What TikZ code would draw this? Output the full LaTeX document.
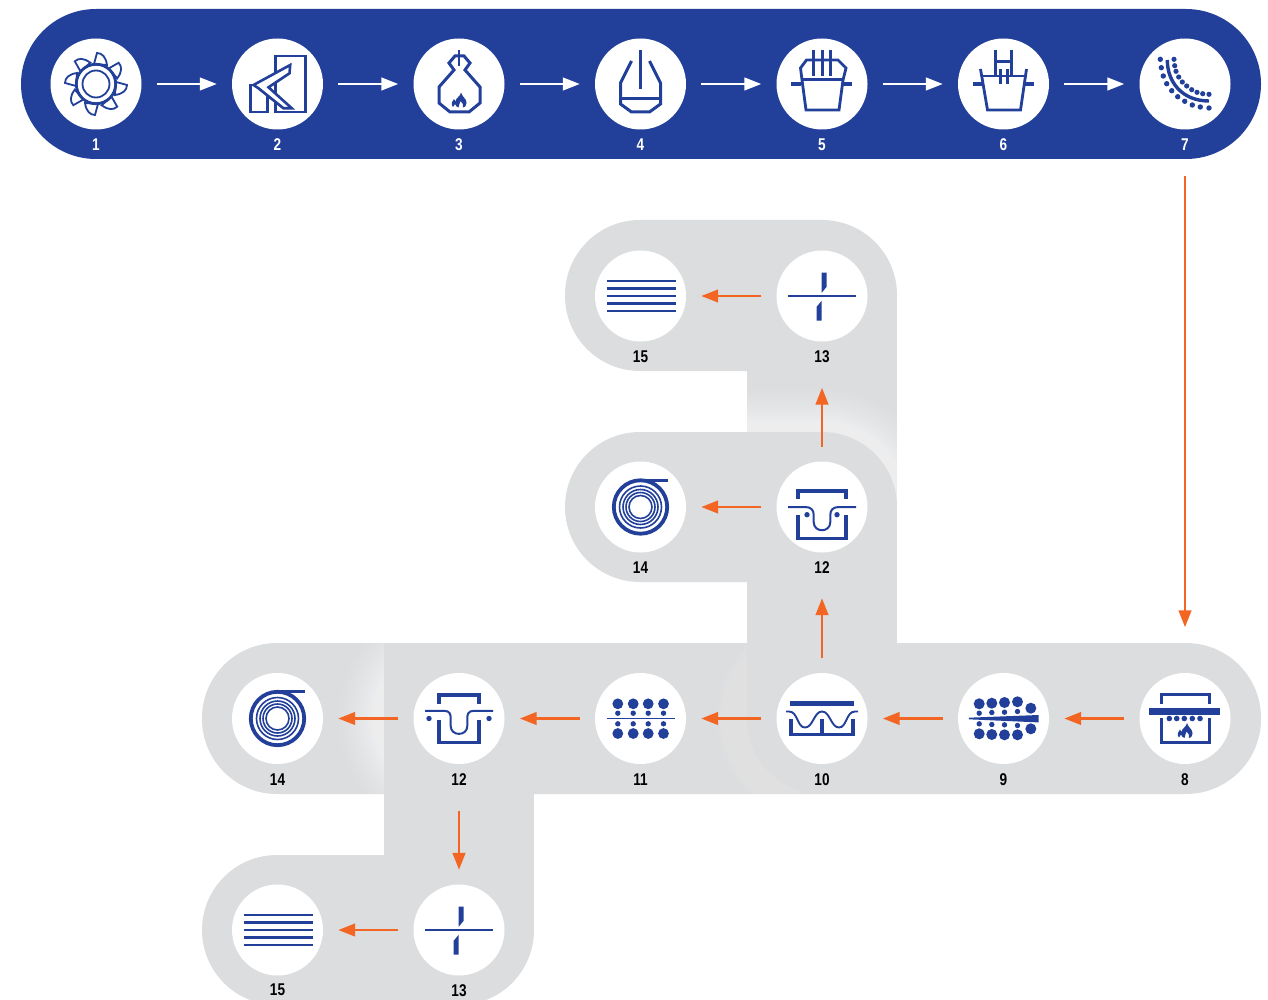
\documentclass[tikz,border=0pt]{standalone}
\usepackage{fontspec}
\usetikzlibrary{arrows.meta}
\newfontfamily\numfont[FakeStretch=0.8]{Liberation Sans}
\definecolor{bandblue}{HTML}{22409A}
\definecolor{bandgray}{HTML}{DCDDDF}
\definecolor{flow}{HTML}{F26522}
\tikzset{
  disc/.style={circle,fill=white,minimum size=91pt,inner sep=0pt,draw=none},
  numw/.style={text=white,font=\numfont\bfseries\fontsize{17}{17}\selectfont,inner sep=0pt},
  numk/.style={text=black,font=\numfont\bfseries\fontsize{17}{17}\selectfont,inner sep=0pt},
  whitearrow/.style={draw=white,line width=2.8pt,-{Triangle[length=17pt,width=12.5pt]},shorten <=15pt,shorten >=15pt},
  flowarrow/.style={draw=flow,line width=2.8pt,-{Triangle[length=17pt,width=12.5pt]},shorten <=15pt,shorten >=15pt},
  stroke/.style={draw=bandblue,line width=#1,line join=miter},
  stroke/.default=2pt,
  ink/.style={fill=bandblue,draw=none}
}
% soft white halo made of stacked translucent strokes, denser near the edge
\newcommand{\halo}[3]{% #1 widest stroke, #2 opacity, #3 path
  \foreach \hw in {1,...,30}{
    \pgfmathsetmacro{\hwd}{#1*(\hw/30)*(\hw/30)}
    \draw[white,draw opacity=#2,line width=\hwd pt] #3;
  }}
\newcommand{\icoFlame}{%
  \fill[ink] (2,-7.5) .. controls (3,-3) and (8,-1) .. (7.5,3) .. controls (7.3,6) and (6,7.5) .. (4,7.5) .. controls (5,5) and (3.5,3) .. (1.5,1) .. controls (1.5,3.5) and (-1,5) .. (-0.5,7.5) .. controls (-2,7) and (-3.5,6) .. (-4,4) .. controls (-5,5) and (-5.5,6) .. (-6,7) .. controls (-8.5,4) and (-7,1) .. (-5,-1) .. controls (-5,0) and (-4.5,1) .. (-3.5,1.5) .. controls (-3.5,-2) and (1.5,-3.5) .. (2,-7.5) -- cycle;}
\newcommand{\icoA}{%
  \foreach \a in {0,45,...,315}{
    \draw[stroke=1.8pt,fill=white,rotate=\a] (20,-2) -- (31,1) .. controls (31,6) and (27,10) .. (19,11) -- cycle;}
  \draw[stroke=2.8pt,fill=white] (0,0) circle (19.7);
  \draw[stroke=1.8pt] (0,0) circle (13.5);}
\newcommand{\icoB}{%
  \draw[stroke=2.6pt] (-2.3,-28) rectangle (27.7,28);
  \draw[stroke=2.6pt] (-27.3,1) rectangle (-10,28);
  \draw[stroke=2.6pt,fill=white] (12.7,-19) -- (12,-10.7) -- (-9,3.3) -- (14.3,24.3) -- (6,24.3) -- (-19,4.3) -- (-24,1) -- cycle;}
\newcommand{\icoC}{%
  \draw[stroke=2.4pt] (0,-34) -- (0,-18);
  \draw[stroke=3pt] (-4,-28) -- (5,-28) -- (11,-21) -- (6,-14) -- (21,3) -- (21,19) -- (10,28) -- (-9,28) -- (-20,19) -- (-20,3) -- (-5,-14) -- (-10,-21) -- cycle;
  \begin{scope}[shift={(0,16)}]\icoFlame\end{scope}}
\newcommand{\icoD}{%
  \draw[stroke=3.8pt] (0,-34) -- (0,5);
  \draw[stroke=3pt] (-9,-23) -- (-20,-1) -- (-20,20) -- (-9,28) -- (9,28) -- (20,20) -- (20,-1) -- (9,-23);
  \draw[stroke=3pt] (-20,14.5) -- (20,14.5);}
\newcommand{\icoE}{%
  \draw[stroke=3pt] (-8.5,-34) -- (-8.5,-8) (0,-34) -- (0,-8) (8,-34) -- (8,-8);
  \draw[stroke=2.8pt] (-20,-4) -- (-21.5,-16) -- (-15.5,-24) -- (16,-24) -- (24,-16) -- (21,-4);
  \draw[stroke=2.6pt] (-20,-4.5) -- (21,-4.5);
  \draw[stroke=2.8pt] (-20,-4) -- (-16,26) -- (17,26) -- (21,-4);
  \draw[stroke=4.4pt] (-31,0) -- (-21,0) (20,0) -- (30,0);}
\newcommand{\icoF}{%
  \draw[stroke=3pt] (-8,-34) -- (-8,-9) (8,-34) -- (8,-9) (-8,-22) -- (8,-22);
  \draw[stroke=3pt] (-3.5,-15) -- (-3.5,0) (3.5,-15) -- (3.5,0);
  \draw[stroke=2.4pt] (-21,-8) -- (20,-8);
  \draw[stroke=2.8pt] (-23,-15) -- (-16,26) -- (17,26) -- (23,-15);
  \draw[stroke=4.4pt] (-31,0) -- (-21,0) (20,0) -- (30,0);}
\newcommand{\icoG}{%
  \foreach \p in {(-24.7,-24.7),(-23.7,-16.3),(-21.7,-8),(-18.3,-.3),(-13.3,6.7),(-7.3,12.7),(-.3,17.3),(7.3,21),(15.3,23),(24,24)}{\fill[ink] \p circle (2.7);}
  \foreach \p in {(-11,-24.7),(-10.3,-18.3),(-9,-12.7),(-6.3,-7),(-2.7,-2),(1.7,2),(6.7,5.7),(12,8.3),(17.7,9.7),(24,10.3)}{\fill[ink] \p circle (2.6);}
  \draw[stroke=3.4pt] (-17.7,-24) .. controls (-17.7,-2) and (-3,17) .. (24,17);}
\newcommand{\icoH}{%
  \draw[stroke=3pt] (-23.3,-15) -- (-23.3,-23.7) -- (24.3,-23.7) -- (24.3,-15);
  \fill[ink] (-35.7,-11) rectangle (35,-3.7);
  \draw[stroke=3pt] (-23.3,-0.3) -- (-23.3,23.7) -- (24.3,23.7) -- (24.3,-0.3);
  \foreach \x in {-15.7,-8.3,-0.7,7.3,15}{\fill[ink] (\x,0) circle (2.8);}
  \begin{scope}[shift={(0,12)}]\icoFlame\end{scope}}
\newcommand{\icoI}{%
  \foreach \x/\y/\yy in {-24.3/-14.7/15.3,-11.7/-15.3/16,1/-16/16.3,14/-16.7/16.3,27.3/-10.3/10.3}{
    \fill[ink] (\x,\y) circle (5.5) (\x,\yy) circle (5.5);}
  \foreach \x/\y/\yy in {-24.3/-5.3/5.3,-11.7/-6/6,1/-6.3/6.3,14/-7/7}{
    \fill[ink] (\x,\y) circle (2.7) (\x,\yy) circle (2.7);}
  \fill[ink] (-34.7,-.8) -- (35,-3.5) -- (35,3.9) -- (-34.7,.8) -- cycle;}
\newcommand{\icoJ}{%
  \fill[ink] (-32,-17.3) rectangle (32,-12.7);
  \draw[stroke=1.9pt] (-36,-7) -- (-33,-7) .. controls (-24,-7) and (-25,9) .. (-17,9) .. controls (-9,9) and (-8,-7) .. (0,-7) .. controls (8,-7) and (9,9) .. (17,9) .. controls (25,9) and (24,-7) .. (33,-7) -- (36,-7);
  \draw[stroke=3.6pt] (-31,.7) -- (-31,16) -- (31,16) -- (31,.7) (0,.7) -- (0,16);}
\newcommand{\icoK}{%
  \foreach \x in {-22.7,-7.3,7.7,23}{
    \fill[ink] (\x,-14.7) circle (5.4) (\x,15) circle (5.4) (\x,-5.3) circle (2.7) (\x,5.3) circle (2.7);}
  \draw[stroke=1.9pt] (-33.7,0) -- (34.3,0);}
% forming icon, dots outside
\newcommand{\icoLa}{%
  \draw[stroke=3.4pt] (-20,-15) -- (-20,-23.7) -- (20,-23.7) -- (20,-15);
  \draw[stroke=3.4pt] (-20,1.3) -- (-20,24) -- (20,24) -- (20,1.3);
  \draw[stroke=2pt] (-34,-7.7) -- (-15,-7.7) .. controls (-9,-7.7) and (-8.3,-4) .. (-8.3,0) -- (-8.3,7.5) .. controls (-8.3,18) and (8.3,18) .. (8.3,7.5) -- (8.3,0) .. controls (8.3,-4) and (9,-7.7) .. (15,-7.7) -- (34,-7.7);
  \fill[ink] (-30,0) circle (2.7) (30,0) circle (2.7);}
% forming icon, dots inside
\newcommand{\icoLb}{%
  \draw[stroke=3.4pt] (-24,-8) -- (-24,-16) -- (24,-16) -- (24,-8);
  \draw[stroke=3.4pt] (-24,8.3) -- (-24,31.7) -- (24,31.7) -- (24,8.3);
  \draw[stroke=2pt] (-34,0) -- (-17,0) .. controls (-11,0) and (-8.3,3) .. (-8.3,8) -- (-8.3,15) .. controls (-8.3,26) and (8.3,26) .. (8.3,15) -- (8.3,8) .. controls (8.3,3) and (11,0) .. (17,0) -- (34,0);
  \fill[ink] (-15,7.7) circle (2.7) (15,7.7) circle (2.7);}
\newcommand{\icoM}{%
  \draw[stroke=2pt] (-34,0) -- (34,0);
  \fill[ink] (-.3,-23.3) -- (4.7,-23.3) -- (4.7,-9.3) -- (-.3,-3.3) -- cycle;
  \fill[ink] (-5.3,24.7) -- (-.3,24.7) -- (-.3,4.7) -- (-5.3,10.7) -- cycle;}
\newcommand{\icoN}{%
  \draw[stroke=2.1pt] \foreach \y in {-15,-7.5,0,7.5,15}{(-34,\y) -- (35,\y)};
  }
\newcommand{\icoO}{%
  \draw[stroke=3.8pt] (0,0) circle (26.7);
  \draw[stroke=3pt] (0,-27) -- (27,-27);
  \foreach \r in {21,17.5,14.5,11.5}{\draw[stroke=1.6pt] (0,0) circle (\r);}}
\newcommand{\place}[2]{\begin{scope}[shift={(#1.center)}]#2\end{scope}}
\begin{document}
\begin{tikzpicture}[x=1pt,y=-1pt]
\useasboundingbox (0,0) rectangle (1268,1000);
\fill[white] (0,0) rectangle (1268,1000);
% --- grey ground, back to front
\fill[bandgray,rounded corners=75pt] (202,855) rectangle (534,1005);
\fill[bandgray] (384,718) rectangle (534,930);
\fill[bandgray,rounded corners=75pt] (202,643) rectangle (600,794);
\begin{scope}
  \clip (202,643) rectangle (384,794);
  \halo{90}{.055}{[rounded corners=75pt] (384,643) rectangle (900,794)}
\end{scope}
\fill[bandgray,rounded corners=75pt] (384,643) rectangle (900,794);
\fill[bandgray] (384,718) rectangle (534,794);
\begin{scope}
  \clip (534,643) rectangle (800,794);
  \halo{60}{.03}{[rounded corners=75pt] (747,643) rectangle (1261,794)}
\end{scope}
\fill[bandgray,rounded corners=75pt] (565,220) rectangle (897,371);
\fill[bandgray] (747,296) rectangle (897,520);
\begin{scope}
  \clip (747,371) rectangle (897,520);
  \halo{85}{.055}{[rounded corners=75pt] (565,432) rectangle (897,582)}
\end{scope}
\fill[bandgray,rounded corners=75pt] (565,432) rectangle (897,582);
\fill[bandgray] (747,507) rectangle (897,718);
\fill[bandgray,rounded corners=75pt] (747,643) rectangle (1261,794);
% --- blue band
\fill[bandblue,rounded corners=75pt] (21,9) rectangle (1261,159);
% --- discs
\node[disc] (c1) at (96,84) {};
\node[disc] (c2) at (277.5,84) {};
\node[disc] (c3) at (459,84) {};
\node[disc] (c4) at (640.5,84) {};
\node[disc] (c5) at (822,84) {};
\node[disc] (c6) at (1003.5,84) {};
\node[disc] (c7) at (1185,84) {};
\node[disc] (c8) at (1185,718.5) {};
\node[disc] (c9) at (1003.5,718.5) {};
\node[disc] (c10) at (822,718.5) {};
\node[disc] (c11) at (640.5,718.5) {};
\node[disc] (c12a) at (459,718.5) {};
\node[disc] (c14a) at (277.5,718.5) {};
\node[disc] (c13a) at (459,930) {};
\node[disc] (c15a) at (277.5,930) {};
\node[disc] (c12b) at (822,507) {};
\node[disc] (c14b) at (640.5,507) {};
\node[disc] (c13b) at (822,296) {};
\node[disc] (c15b) at (640.5,296) {};
% --- icons
\place{c1}{\icoA}\place{c2}{\icoB}\place{c3}{\icoC}\place{c4}{\icoD}
\place{c5}{\icoE}\place{c6}{\icoF}\place{c7}{\icoG}\place{c8}{\icoH}
\place{c9}{\icoI}\place{c10}{\icoJ}\place{c11}{\icoK}\place{c12a}{\icoLa}
\place{c12b}{\icoLb}\place{c13a}{\icoM}\place{c13b}{\icoM}
\place{c14a}{\icoO}\place{c14b}{\icoO}\place{c15a}{\icoN}\place{c15b}{\icoN}
% --- numbers
\foreach \n/\x in {1/96,2/277.5,3/459,4/640.5,5/822,6/1003.5,7/1185}{
  \node[numw] (n\n) at (\x,145) {\n};}
\node[numk] (n8) at (1185,780) {8};
\node[numk] (n9) at (1003.5,780) {9};
\node[numk] (n10) at (822,780) {10};
\node[numk] (n11) at (640.5,780) {11};
\node[numk] (n12a) at (459,780) {12};
\node[numk] (n14a) at (277.5,780) {14};
\node[numk] (n12b) at (822,568) {12};
\node[numk] (n14b) at (640.5,568) {14};
\node[numk] (n13b) at (822,357) {13};
\node[numk] (n15b) at (640.5,357) {15};
\node[numk] (n13a) at (459,991) {13};
\node[numk] (n15a) at (277.5,990) {15};
% --- connectors
\draw[whitearrow] (c1) -- (c2);
\draw[whitearrow] (c2) -- (c3);
\draw[whitearrow] (c3) -- (c4);
\draw[whitearrow] (c4) -- (c5);
\draw[whitearrow] (c5) -- (c6);
\draw[whitearrow] (c6) -- (c7);
\draw[flowarrow,shorten <=46.5pt,shorten >=45.5pt] (c7) -- (c8);
\draw[flowarrow] (c8) -- (c9);
\draw[flowarrow] (c9) -- (c10);
\draw[flowarrow] (c10) -- (c11);
\draw[flowarrow] (c11) -- (c12a);
\draw[flowarrow] (c12a) -- (c14a);
\draw[flowarrow,shorten <=46.5pt,shorten >=14.5pt] (c12a) -- (c13a);
\draw[flowarrow] (c13a) -- (c15a);
\draw[flowarrow,shorten <=14.5pt,shorten >=45.5pt] (c10) -- (c12b);
\draw[flowarrow] (c12b) -- (c14b);
\draw[flowarrow,shorten <=14.5pt,shorten >=46pt] (c12b) -- (c13b);
\draw[flowarrow] (c13b) -- (c15b);
\end{tikzpicture}
\end{document}
